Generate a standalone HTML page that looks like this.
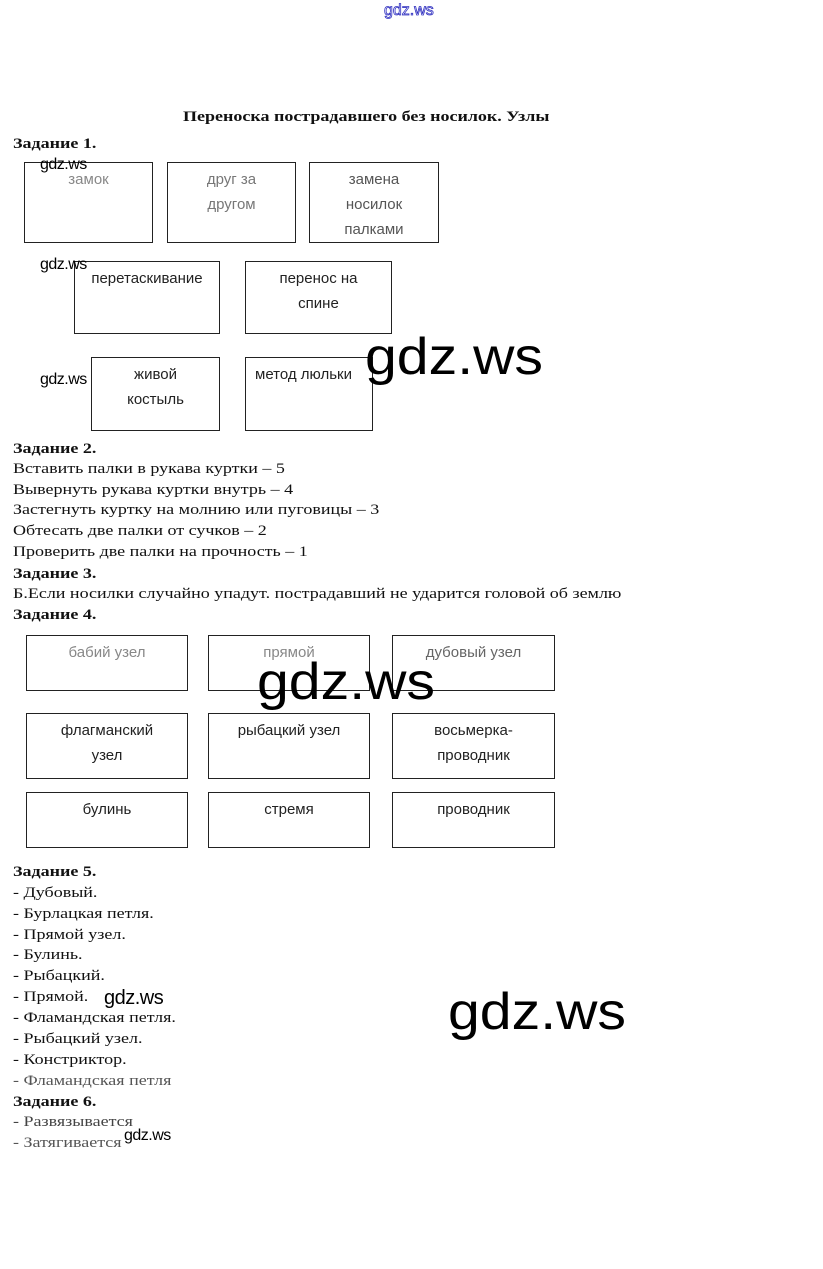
<!DOCTYPE html>
<html><head><meta charset="utf-8"><style>
body{margin:0;width:823px;height:1269px;background:#fff;position:relative;overflow:hidden;font-family:"Liberation Serif",serif;color:#111}
.t{position:absolute;left:13px;font-size:15px;line-height:18px;white-space:nowrap;transform:scaleX(1.2);transform-origin:0 0}
.b{font-weight:bold}
.box{position:absolute;border:1px solid #222;box-sizing:border-box;font-family:"Liberation Sans",sans-serif;font-size:15px;text-align:center;line-height:25px;padding-top:4px;color:#222}
.w{position:absolute;font-family:"Liberation Sans",sans-serif;color:#000;white-space:nowrap}
.ws{font-size:16px;letter-spacing:-0.5px}
.wb{font-size:52px;letter-spacing:0px;transform:scaleX(1.1);transform-origin:0 0}
</style></head><body>
<div class="w" style="left:384px;top:2px;font-size:16px;color:#fff;-webkit-text-stroke:0.8px #3030c0">gdz.ws</div>
<div class="t b" style="left:183px;top:108px">Переноска пострадавшего без носилок. Узлы</div>
<div class="t b" style="top:135px">Задание 1.</div>

<div class="box" style="left:24px;top:162px;width:129px;height:81px;color:#888">замок</div>
<div class="box" style="left:167px;top:162px;width:129px;height:81px;color:#777">друг за<br>другом</div>
<div class="box" style="left:309px;top:162px;width:130px;height:81px;color:#555">замена<br>носилок<br>палками</div>
<div class="box" style="left:74px;top:261px;width:146px;height:73px">перетаскивание</div>
<div class="box" style="left:245px;top:261px;width:147px;height:73px">перенос на<br>спине</div>
<div class="box" style="left:91px;top:357px;width:129px;height:74px">живой<br>костыль</div>
<div class="box" style="left:245px;top:357px;width:128px;height:74px;text-align:left;padding-left:9px">метод люльки</div>

<div class="w ws" style="left:40px;top:156px">gdz.ws</div>
<div class="w ws" style="left:40px;top:256px">gdz.ws</div>
<div class="w ws" style="left:40px;top:371px">gdz.ws</div>
<div class="w wb" style="left:365px;top:327px">gdz.ws</div>

<div class="t b" style="top:440px">Задание 2.</div>
<div class="t" style="top:460px">Вставить палки в рукава куртки – 5</div>
<div class="t" style="top:481px">Вывернуть рукава куртки внутрь – 4</div>
<div class="t" style="top:501px">Застегнуть куртку на молнию или пуговицы – 3</div>
<div class="t" style="top:522px">Обтесать две палки от сучков – 2</div>
<div class="t" style="top:543px">Проверить две палки на прочность – 1</div>
<div class="t b" style="top:565px">Задание 3.</div>
<div class="t" style="top:585px">Б.Если носилки случайно упадут. пострадавший не ударится головой об землю</div>
<div class="t b" style="top:606px">Задание 4.</div>

<div class="box" style="left:26px;top:635px;width:162px;height:56px;color:#888">бабий узел</div>
<div class="box" style="left:208px;top:635px;width:162px;height:56px;color:#888">прямой</div>
<div class="box" style="left:392px;top:635px;width:163px;height:56px;color:#666">дубовый узел</div>
<div class="box" style="left:26px;top:713px;width:162px;height:66px">флагманский<br>узел</div>
<div class="box" style="left:208px;top:713px;width:162px;height:66px">рыбацкий узел</div>
<div class="box" style="left:392px;top:713px;width:163px;height:66px">восьмерка-<br>проводник</div>
<div class="box" style="left:26px;top:792px;width:162px;height:56px">булинь</div>
<div class="box" style="left:208px;top:792px;width:162px;height:56px">стремя</div>
<div class="box" style="left:392px;top:792px;width:163px;height:56px">проводник</div>
<div class="w wb" style="left:257px;top:652px">gdz.ws</div>

<div class="t b" style="top:863px">Задание 5.</div>
<div class="t" style="top:884px">- Дубовый.</div>
<div class="t" style="top:905px">- Бурлацкая петля.</div>
<div class="t" style="top:926px">- Прямой узел.</div>
<div class="t" style="top:946px">- Булинь.</div>
<div class="t" style="top:967px">- Рыбацкий.</div>
<div class="t" style="top:988px">- Прямой.</div>
<div class="t" style="top:1009px">- Фламандская петля.</div>
<div class="t" style="top:1030px">- Рыбацкий узел.</div>
<div class="t" style="top:1051px">- Констриктор.</div>
<div class="t" style="top:1072px;color:#555">- Фламандская петля</div>
<div class="t b" style="top:1093px">Задание 6.</div>
<div class="t" style="top:1113px;color:#444">- Развязывается</div>
<div class="t" style="top:1134px;color:#555">- Затягивается</div>
<div class="w ws" style="left:104px;top:987px;font-size:20px">gdz.ws</div>
<div class="w ws" style="left:124px;top:1127px">gdz.ws</div>
<div class="w wb" style="left:448px;top:982px">gdz.ws</div>
</body></html>
